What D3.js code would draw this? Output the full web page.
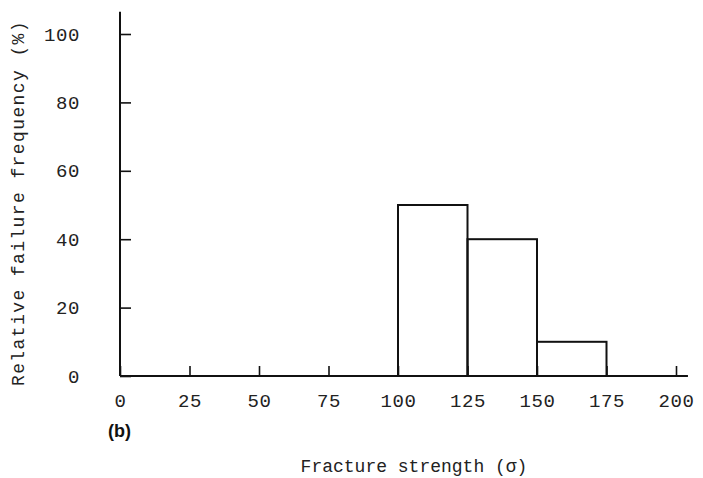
<!DOCTYPE html>
<html><head><meta charset="utf-8">
<script src="https://cdn.jsdelivr.net/npm/d3@7"></script>
<style>
html,body{margin:0;padding:0;background:#fff;}
svg{display:block;}
.mono{font-family:"Liberation Mono","DejaVu Sans Mono",monospace;}
</style></head>
<body><svg id="c" width="703" height="478"></svg>
<script>
// Data
const binStarts = [100, 125, 150];
const binWidth = 25;
const frequencies = [50, 40, 10];
const xTicks = [0, 25, 50, 75, 100, 125, 150, 175, 200];
const yTicks = [0, 20, 40, 60, 80, 100];
const xTitle = "Fracture strength (\u03c3)";
const yTitle = "Relative failure frequency (%)";
const panelLabel = "(b)";

const svg = d3.select("#c");
const x = d3.scaleLinear().domain([0, 200]).range([120, 676]);
const y = d3.scaleLinear().domain([0, 100]).range([376, 34]);
const ink = "#111";

// bars
svg.append("g").selectAll("rect").data(binStarts).join("rect")
  .attr("x", d => x(d)).attr("width", d => x(d + binWidth) - x(d))
  .attr("y", (d, i) => y(frequencies[i])).attr("height", (d, i) => y(0) - y(frequencies[i]))
  .attr("fill", "none").attr("stroke", ink).attr("stroke-width", 2);

// y axis
const gy = svg.append("g").attr("transform", `translate(${x(0)},0)`)
  .call(d3.axisLeft(y).tickValues(yTicks).tickSizeInner(-11).tickSizeOuter(0).tickPadding(40).tickFormat(d3.format("d")));
gy.select(".domain").remove();
gy.selectAll(".tick line").attr("stroke", ink).attr("stroke-width", 1.6);
gy.selectAll("text").attr("class", "mono").attr("font-size", 19).attr("letter-spacing", "0.6px").attr("fill", "#222");

// x axis
const gx = svg.append("g").attr("transform", `translate(0,${y(0)})`)
  .call(d3.axisBottom(x).tickValues(xTicks).tickSizeInner(-10).tickSizeOuter(0).tickPadding(18).tickFormat(d3.format("d")));
gx.select(".domain").remove();
gx.selectAll(".tick line").attr("stroke", ink).attr("stroke-width", 1.6);
gx.selectAll("text").attr("class", "mono").attr("font-size", 19).attr("letter-spacing", "0.6px").attr("fill", "#222");

// axis lines
svg.append("line").attr("x1", x(0)).attr("x2", x(0)).attr("y1", y(106.5)).attr("y2", y(0))
  .attr("stroke", ink).attr("stroke-width", 2);
svg.append("line").attr("x1", x(0)).attr("x2", x(204.3)).attr("y1", y(0)).attr("y2", y(0))
  .attr("stroke", ink).attr("stroke-width", 2.2);

// titles
svg.append("text").attr("class", "mono").attr("x", 414).attr("y", 472)
  .attr("text-anchor", "middle").attr("font-size", 18).attr("letter-spacing", "0px").attr("fill", "#222").text(xTitle);
svg.append("text").attr("class", "mono").attr("transform", "translate(24,203) rotate(-90)")
  .attr("text-anchor", "middle").attr("font-size", 18).attr("letter-spacing", "1.4px").attr("fill", "#222").text(yTitle);
svg.append("text").attr("x", 108).attr("y", 437)
  .attr("font-family", "Liberation Sans, Arial, sans-serif").attr("font-weight", "bold")
  .attr("font-size", 18).attr("fill", "#111").text(panelLabel);
</script></body></html>
